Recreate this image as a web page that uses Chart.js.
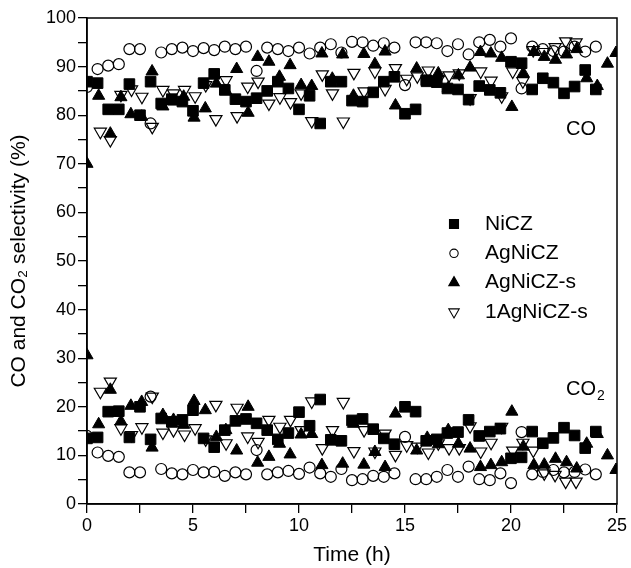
<!DOCTYPE html>
<html><head><meta charset="utf-8">
<script src="https://cdn.jsdelivr.net/npm/chart.js@4/dist/chart.umd.min.js"></script>
<style>html,body{margin:0;padding:0;background:#fff}#wrap{width:631px;height:568px}</style>
</head><body><div id="wrap"><canvas id="c" width="631" height="568"></canvas></div>
<script>
const seriesNames = ['NiCZ', 'AgNiCZ', 'AgNiCZ-s', '1AgNiCZ-s'];
const xTickLabels = ['0', '5', '10', '15', '20', '25'];
const yTickLabels = ['0', '10', '20', '30', '40', '50', '60', '70', '80', '90', '100'];

const timeNiCZ = [0,0.5,1,1.5,2,2.5,3,3.5,4,4.5,5,5.5,6,6.5,7,7.5,8,8.5,9,9.5,10,10.5,11,11.5,12,12.5,13,13.5,14,14.5,15,15.5,16,16.5,17,17.5,18,18.5,19,19.5,20,20.5,21,21.5,22,22.5,23,23.5,24];
const coNiCZ = [86.9,86.6,81.2,81.2,86.4,80.0,86.9,82.4,83.3,82.8,80.9,86.6,88.5,85.2,83.3,82.8,83.5,85.0,86.9,85.5,81.2,84.0,78.3,86.9,86.9,83.0,82.8,84.7,86.9,87.9,80.3,81.2,87.2,86.8,85.5,85.3,83.2,86.0,85.2,84.6,91.0,90.7,85.3,87.6,86.7,84.5,85.9,89.3,85.3];
const co2NiCZ = [13.5,13.7,19.0,19.1,13.7,20.0,13.3,17.6,16.9,17.3,19.3,13.5,11.7,15.2,17.1,17.5,16.6,15.2,13.3,14.6,18.9,16.1,21.5,13.2,13.0,17.2,17.5,15.4,13.5,12.3,20.0,19.0,13.0,13.3,14.6,14.8,17.3,14.0,14.9,15.5,9.4,9.6,14.9,12.5,13.6,15.7,14.1,11.5,14.9];

const timeAgNiCZ = [0,0.5,1,1.5,2,2.5,3,3.5,4,4.5,5,5.5,6,6.5,7,7.5,8,8.5,9,9.5,10,10.5,11,11.5,12,12.5,13,13.5,14,14.5,15,15.5,16,16.5,17,17.5,18,18.5,19,19.5,20,20.5,21,21.5,22,22.5,23,23.5,24];
const coAgNiCZ = [85.8,89.5,90.2,90.5,93.6,93.6,78.3,92.9,93.6,93.9,93.2,93.8,93.4,94.1,93.6,94.1,89.1,93.9,93.6,93.2,93.9,92.7,93.9,94.6,92.9,95.1,95.0,94.3,94.8,93.9,86.2,95.0,95.0,94.8,93.2,94.6,92.5,95.0,95.5,94.1,95.8,85.5,94.1,93.6,93.2,93.1,94.1,93.1,94.1];
const co2AgNiCZ = [14.0,10.6,9.9,9.7,6.5,6.5,22.1,7.2,6.3,6.1,7.0,6.5,6.6,5.8,6.5,6.1,11.1,6.1,6.5,6.8,6.2,7.5,6.3,5.6,7.2,4.9,5.1,5.8,5.6,6.3,13.8,5.1,5.1,5.6,7.0,5.6,7.7,5.1,4.9,6.3,4.3,14.8,6.1,6.6,7.0,6.5,6.6,7.1,6.1];

const timeAgNiCZs = [0,0.55,1.1,1.6,2.07,2.58,3.07,3.58,4.08,4.56,5.05,5.58,6.1,6.55,7.06,7.6,8.05,8.58,9.08,9.58,10.1,10.6,11.08,11.57,12.06,12.57,13.06,13.58,14.06,14.55,15.55,16.05,16.57,17.04,17.52,18.07,18.56,19.05,19.56,20.04,20.58,21.08,21.57,22.1,22.62,23.1,23.57,24.07,24.55,24.95];
const coAgNiCZs = [70.0,84.0,76.2,83.7,80.2,79.7,89.0,81.8,82.8,83.8,79.5,81.4,86.5,85.0,89.5,80.5,92.0,91.0,87.9,90.3,86.2,86.0,92.7,87.5,92.5,84.0,92.6,90.5,93.1,82.0,89.6,86.6,88.6,85.6,88.2,89.8,93.0,92.7,91.8,81.7,88.6,93.0,92.0,91.4,92.5,93.6,87.6,86.0,90.6,92.8];
const co2AgNiCZs = [30.6,16.4,23.5,17.0,20.2,21.0,11.6,18.3,17.3,16.3,21.2,19.3,13.8,15.2,11.0,20.0,8.5,9.7,12.4,10.2,14.3,14.4,8.0,13.0,8.3,16.5,8.1,10.7,7.6,18.6,11.0,13.6,12.3,15.2,12.4,11.4,7.6,8.0,8.6,19.0,11.8,8.0,8.1,9.3,8.6,7.3,12.4,14.4,10.0,7.0];

const time1AgNiCZs = [0.63,1.1,1.6,2.1,2.59,3.08,3.58,4.08,4.6,5.1,5.6,6.08,6.56,7.08,7.58,8.07,8.58,9.1,9.6,10.1,10.6,11.1,11.58,12.09,12.59,13.07,13.58,14.06,14.55,15.08,15.58,16.1,16.57,17.08,17.56,18.07,18.57,19.06,19.56,20.08,20.56,21.05,21.57,22.08,22.58,23.07];
const co1AgNiCZs = [76.6,74.9,84.2,85.3,83.8,77.6,85.2,84.5,85.2,83.9,86.2,79.2,87.2,79.8,85.9,86.9,82.4,83.7,82.7,84.5,78.8,88.4,84.5,78.7,88.7,84.9,89.0,85.4,89.7,87.5,88.0,89.2,87.4,88.2,88.6,83.5,89.0,87.1,83.9,89.0,87.0,93.4,93.0,94.0,95.2,95.0];
const co21AgNiCZs = [23.1,25.2,15.6,14.2,15.8,22.1,14.7,15.2,14.3,15.6,13.3,20.4,12.5,19.8,13.9,12.8,17.3,15.9,17.3,15.2,21.1,11.5,15.2,21.0,10.9,15.2,10.8,14.5,10.1,12.1,11.8,10.6,12.5,11.5,11.5,16.0,10.8,12.6,15.9,11.0,12.6,11.0,6.3,6.0,4.6,4.6];

const FONT = '"Liberation Sans", Arial, Helvetica, sans-serif';
Chart.defaults.font.family = FONT;
Chart.defaults.color = '#000';

function pts(t, a, b) {
  return t.map((x, i) => ({x, y: a[i]})).concat(t.map((x, i) => ({x, y: b[i]})));
}

const styles = [
  {pointStyle: 'rect', pointRadius: 7.5, pointBackgroundColor: '#000', pointBorderColor: '#000', pointBorderWidth: 1, pointRotation: 0},
  {pointStyle: 'circle', pointRadius: 5.5, pointBackgroundColor: 'rgba(0,0,0,0)', pointBorderColor: '#000', pointBorderWidth: 1.2, pointRotation: 0},
  {pointStyle: 'triangle', pointRadius: 7, pointBackgroundColor: '#000', pointBorderColor: '#000', pointBorderWidth: 1, pointRotation: 0},
  {pointStyle: 'triangle', pointRadius: 7, pointBackgroundColor: 'rgba(0,0,0,0)', pointBorderColor: '#000', pointBorderWidth: 1.2, pointRotation: 180}
];

const datasets = [
  pts(timeNiCZ, coNiCZ, co2NiCZ),
  pts(timeAgNiCZ, coAgNiCZ, co2AgNiCZ),
  pts(timeAgNiCZs, coAgNiCZs, co2AgNiCZs),
  pts(time1AgNiCZs, co1AgNiCZs, co21AgNiCZs)
].map((d, i) => Object.assign({label: seriesNames[i], data: d, showLine: false}, styles[i]));

function marker(ctx, i, x, y) {
  const s = styles[i];
  ctx.save();
  ctx.beginPath();
  ctx.lineWidth = 1.1;
  ctx.strokeStyle = '#000';
  ctx.fillStyle = '#000';
  if (s.pointStyle === 'rect') {
    ctx.rect(x - 4.5, y - 4.5, 9, 9);
  } else if (s.pointStyle === 'circle') {
    ctx.arc(x, y, 4.2, 0, Math.PI * 2);
  } else {
    const r = 6;
    const dir = s.pointRotation ? -1 : 1;
    ctx.moveTo(x, y - dir * r);
    ctx.lineTo(x + r * 0.866, y + dir * r * 0.5);
    ctx.lineTo(x - r * 0.866, y + dir * r * 0.5);
    ctx.closePath();
  }
  if (s.pointBackgroundColor === '#000') ctx.fill();
  ctx.stroke();
  ctx.restore();
}

const overlay = {
  id: 'overlay',
  afterDraw(chart) {
    const {ctx, chartArea: a, scales} = chart;
    ctx.save();
    ctx.strokeStyle = '#000';
    ctx.lineWidth = 1.5;
    ctx.strokeRect(a.left, a.top, a.right - a.left, a.bottom - a.top);
    // legend
    ctx.font = '21px ' + FONT;
    ctx.fillStyle = '#000';
    ctx.textBaseline = 'middle';
    ctx.textAlign = 'left';
    const lx = a.left + 367, ly = a.top + 206, dy = 29.3;
    seriesNames.forEach((n, i) => {
      marker(ctx, i, lx, ly + i * dy);
      ctx.fillText(n, lx + 31, ly + i * dy);
    });
    // CO / CO2 labels
    ctx.font = '20px ' + FONT;
    const cx = scales.x.getPixelForValue(22.6);
    ctx.fillText('CO', cx, scales.y.getPixelForValue(77));
    const y2 = scales.y.getPixelForValue(23.6);
    ctx.fillText('CO', cx, y2);
    const w = ctx.measureText('CO').width;
    ctx.font = '14px ' + FONT;
    ctx.fillText('2', cx + w + 1, y2 + 7);
    ctx.restore();
  }
};

new Chart(document.getElementById('c'), {
  type: 'scatter',
  data: {datasets},
  plugins: [overlay],
  options: {
    responsive: false,
    animation: false,
    layout: {padding: {left: 0, top: 18, right: 14, bottom: 0}},
    plugins: {legend: {display: false}, tooltip: {enabled: false}},
    scales: {
      x: {
        type: 'linear', min: 0, max: 25,
        afterFit(s) { s.height = 64; },
        ticks: {stepSize: 2.5, autoSkip: false, maxRotation: 0, color: '#000', font: {size: 18}, padding: 2,
          callback: v => (v % 5 === 0 ? xTickLabels[v / 5] : '')},
        grid: {drawOnChartArea: false, drawTicks: true, tickLength: 9, color: '#000', lineWidth: 1.3},
        border: {display: true, color: '#000', width: 1.5},
        title: {display: true, text: 'Time (h)', color: '#000', font: {size: 21}, padding: {top: 0, bottom: 0}}
      },
      y: {
        type: 'linear', min: 0, max: 100,
        afterFit(s) { s.width = 87; },
        ticks: {stepSize: 5, autoSkip: false, color: '#000', font: {size: 18}, padding: 2,
          callback: v => (v % 10 === 0 ? yTickLabels[v / 10] : '')},
        grid: {drawOnChartArea: false, drawTicks: true, tickLength: 9, color: '#000', lineWidth: 1.3},
        border: {display: true, color: '#000', width: 1.5},
        title: {display: true, text: 'CO and CO\u2082 selectivity (%)', color: '#000', font: {size: 21}, padding: {top: 7, bottom: 0}}
      }
    }
  }
});
</script>
</body></html>
